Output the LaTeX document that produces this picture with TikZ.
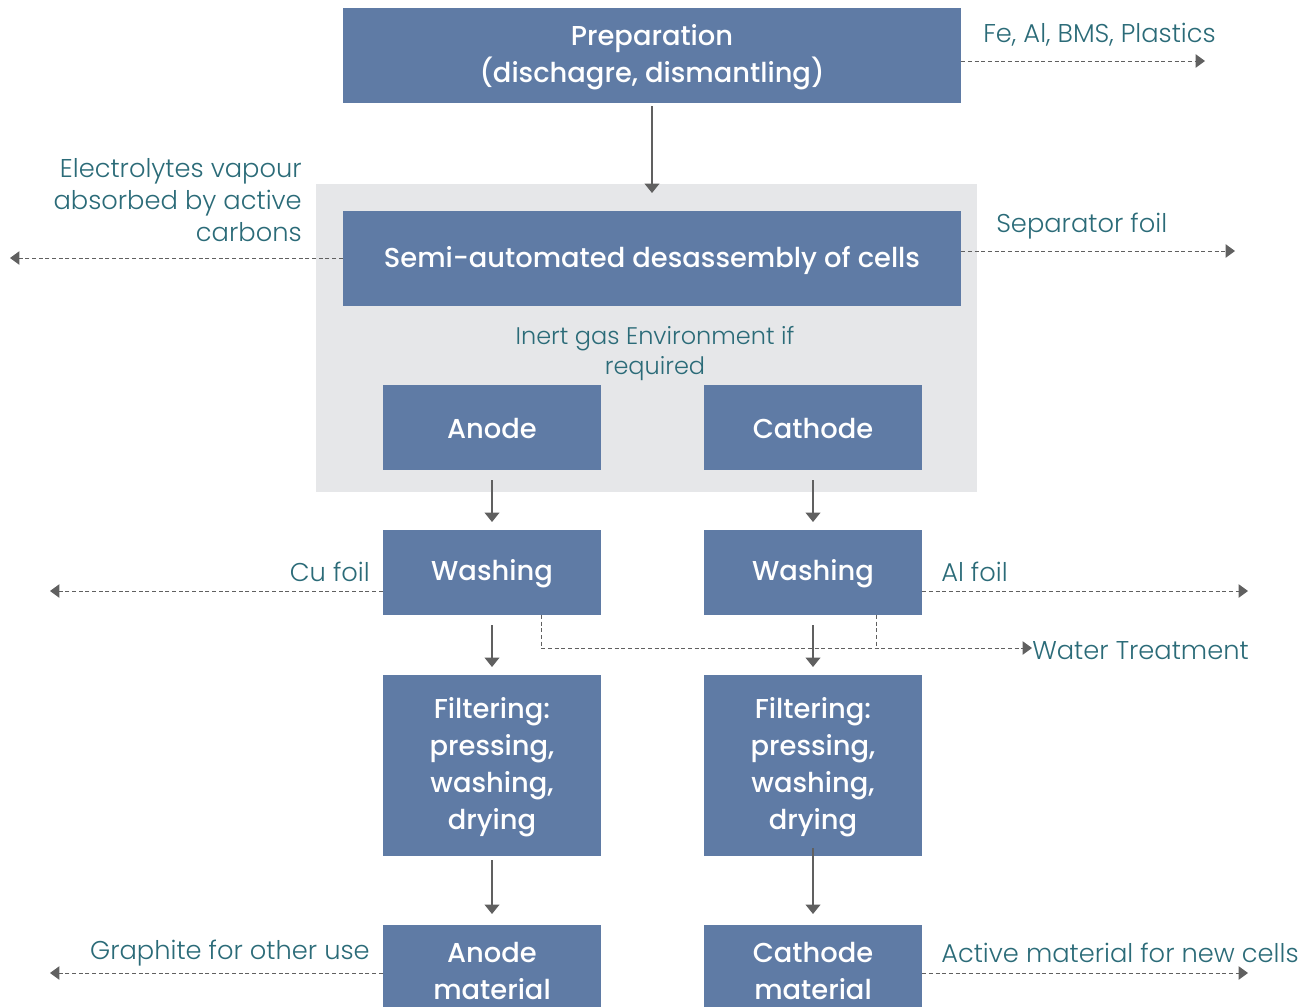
\documentclass[tikz,border=0pt]{standalone}
\usepackage{fontspec}
\setmainfont{Poppins}[BoldFont={Poppins Medium}]
\newfontfamily\lightfont{Poppins Light}
\usetikzlibrary{arrows.meta}
\definecolor{boxblue}{HTML}{5F7BA5}
\definecolor{bggray}{HTML}{E6E7E9}
\definecolor{teal}{HTML}{2B6B78}
\definecolor{arrgray}{HTML}{606060}
\tikzset{
  box/.style={fill=boxblue, draw=none, text=white, align=center, inner sep=0pt,
    font=\fontsize{20.5}{27.75}\selectfont\bfseries},
  smallbox/.style={box, minimum width=163.5pt, minimum height=63.75pt},
  widebox/.style={box, minimum width=463.5pt, minimum height=71.25pt},
  lbl/.style={text=teal, inner sep=0pt, font=\fontsize{19.3}{24}\selectfont\lightfont},
  flow/.style={draw=arrgray, line width=1.1pt, -{Triangle[width=11pt,length=7pt]}},
  side/.style={draw=arrgray, line width=0.75pt, dash pattern=on 3pt off 2pt, -{Triangle[width=10pt,length=7pt]}},
  sideline/.style={draw=arrgray, line width=0.75pt, dash pattern=on 3pt off 2pt},
}
\begin{document}
\begin{tikzpicture}[x=0.75pt, y=-0.75pt]
\useasboundingbox (0,0) rectangle (1307,1007);
\clip (0,0) rectangle (1307,1007);
% background
\fill[bggray] (316,184) rectangle (977,492);
% boxes
\node[widebox, text depth=0pt] (prep) at (652,55.5) {};
\node[box, anchor=center] (preptext) at (652,57) {Preparation\\(dischagre, dismantling)};
\node[widebox] (semi) at (652,258) {};
\node[box, fill=none] (semitext) at (652,260) {Semi-automated desassembly of cells};
\node[smallbox] (anode) at (492,427.5) {};
\node[box, fill=none] (anodetext) at (492,428.5) {Anode};
\node[smallbox] (cathode) at (813,427.5) {};
\node[box, fill=none] (cathodetext) at (813,428.5) {Cathode};
\node[smallbox] (washA) at (492,572.5) {};
\node[box, fill=none] (washAtext) at (492,573.5) {Washing};
\node[smallbox] (washC) at (813,572.5) {};
\node[box, fill=none] (washCtext) at (813,573.5) {Washing};
\node[smallbox, minimum height=135.75pt] (filtA) at (492,765.5) {};
\node[box, fill=none] (filtAtext) at (492,767.5) {Filtering:\\pressing,\\washing,\\drying};
\node[smallbox, minimum height=135.75pt] (filtC) at (813,765.5) {};
\node[box, fill=none] (filtCtext) at (813,767.5) {Filtering:\\pressing,\\washing,\\drying};
\node[smallbox, minimum height=66.75pt] (matA) at (492,969.5) {};
\node[box, fill=none] (matAtext) at (492,971) {Anode\\material};
\node[smallbox, minimum height=66.75pt] (matC) at (813,969.5) {};
\node[box, fill=none] (matCtext) at (813,971) {Cathode\\material};
% labels
\node[lbl, anchor=west] (lfe) at (983,35) {Fe, Al, BMS, Plastics};
\node[lbl, anchor=east, align=right] (lel) at (302,200) {Electrolytes vapour\\absorbed by active\\carbons};
\node[lbl, anchor=west] (lsep) at (996,226) {Separator foil};
\node[lbl, align=center, font=\fontsize{18}{22.5}\selectfont\lightfont] (linert) at (655,354) {Inert gas Environment if\\required};
\node[lbl, anchor=east] (lcu) at (370,572) {Cu foil};
\node[lbl, anchor=west] (lal) at (941,572) {Al foil};
\node[lbl, anchor=west] (lwater) at (1032,651) {Water Treatment};
\node[lbl, anchor=east] (lgr) at (370,953) {Graphite for other use};
\node[lbl, anchor=west] (lact) at (941,953) {Active material for new cells};
% free ends
\coordinate (eFe) at (1205,61);
\coordinate (eEl) at (10,258);
\coordinate (eSep) at (1235,251);
\coordinate (eCu) at (50,591);
\coordinate (eAl) at (1248,591);
\coordinate (eGr) at (50,973);
\coordinate (eAct) at (1248,973);
\coordinate (wA) at (541,615);
\coordinate (wC) at (876,615);
\coordinate (wJoin) at (876,648);
% solid flow arrows
\draw[flow] (prep.south) ++(0,3) -- (652,193);
\draw[flow] (492,480) -- (492,522);
\draw[flow] (813,480) -- (813,522);
\draw[flow] (492,625) -- (492,667);
\draw[flow] (813,625) -- (813,667);
\draw[flow] (492,860) -- (492,914);
\draw[flow] (813,848) -- (813,914);
% side dashed arrows
\draw[side] (prep.east |- eFe) -- (eFe);
\draw[side] (semi.west |- eEl) -- (eEl);
\draw[side] (semi.east |- eSep) -- (eSep);
\draw[side] (washA.west |- eCu) -- (eCu);
\draw[side] (washC.east |- eAl) -- (eAl);
\draw[side] (matA.west |- eGr) -- (eGr);
\draw[side] (matC.east |- eAct) -- (eAct);
% water
\draw[side] (wA) -- (541,648) -- (lwater.west |- wJoin);
\draw[sideline] (wC) -- (wJoin);
\end{tikzpicture}
\end{document}
